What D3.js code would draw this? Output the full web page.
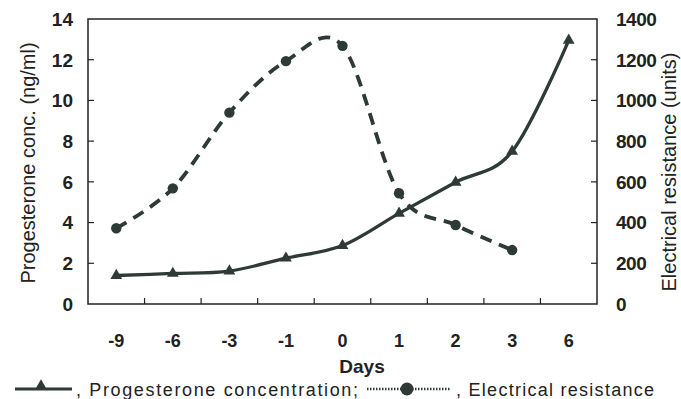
<!DOCTYPE html>
<html>
<head>
<meta charset="utf-8">
<script src="https://cdn.jsdelivr.net/npm/d3@7"></script>
<style>
  body { margin: 0; background: #fff; }
  svg { display: block; font-family: "Liberation Sans", Arial, sans-serif; }
</style>
</head>
<body>
<div id="chart"></div>
<script>
// categories on the x axis (equally spaced, not a linear time scale)
const days = ["-9", "-6", "-3", "-1", "0", "1", "2", "3", "6"];
const progesterone = [1.4, 1.5, 1.62, 2.25, 2.87, 4.45, 5.98, 7.5, 12.95];
const resistanceDays = ["-9", "-6", "-3", "-1", "0", "1", "2", "3"];
const resistance = [372, 568, 940, 1193, 1268, 544, 388, 265];
const leftTicks = [0, 2, 4, 6, 8, 10, 12, 14];
const rightTicks = [0, 200, 400, 600, 800, 1000, 1200, 1400];

const W = 681, H = 399;
const margin = {top: 19, right: 84, bottom: 95, left: 88};
const ink = "#2e3a35";

const svg = d3.select("#chart").append("svg")
  .attr("width", W).attr("height", H);

const x = d3.scaleBand().domain(days).range([margin.left, W - margin.right]);
const cx = d => x(d) + x.bandwidth() / 2;
const yL = d3.scaleLinear().domain([0, 14]).range([H - margin.bottom, margin.top]);
const yR = d3.scaleLinear().domain([0, 1400]).range([H - margin.bottom, margin.top]);

// frame
svg.append("rect")
  .attr("x", margin.left).attr("y", margin.top)
  .attr("width", W - margin.left - margin.right)
  .attr("height", H - margin.top - margin.bottom)
  .attr("fill", "none").attr("stroke", "#222").attr("stroke-width", 1.5);

// inner ticks
const tickG = svg.append("g").attr("stroke", "#222").attr("stroke-width", 1.2);
leftTicks.slice(1, -1).forEach(v => {
  tickG.append("line").attr("x1", margin.left).attr("x2", margin.left + 6)
    .attr("y1", yL(v)).attr("y2", yL(v));
});
rightTicks.slice(1, -1).forEach(v => {
  tickG.append("line").attr("x1", W - margin.right).attr("x2", W - margin.right - 6)
    .attr("y1", yR(v)).attr("y2", yR(v));
});
days.slice(1).forEach(d => {
  tickG.append("line").attr("x1", x(d)).attr("x2", x(d))
    .attr("y1", H - margin.bottom).attr("y2", H - margin.bottom - 6);
});

// tick labels
svg.append("g").selectAll("text").data(leftTicks).join("text")
  .attr("x", 73).attr("y", d => yL(d)).attr("dy", "0.36em")
  .attr("text-anchor", "end").attr("font-size", 19).attr("font-weight", "bold")
  .attr("fill", "#222").text(d => d);
svg.append("g").selectAll("text").data(rightTicks).join("text")
  .attr("x", 616).attr("y", d => yR(d)).attr("dy", "0.36em")
  .attr("text-anchor", "start").attr("font-size", 19).attr("font-weight", "bold")
  .attr("fill", "#222").attr("letter-spacing", -0.5).text(d => d);
svg.append("g").selectAll("text").data(days).join("text")
  .attr("x", d => cx(d)).attr("y", 347)
  .attr("text-anchor", "middle").attr("font-size", 18).attr("font-weight", "bold")
  .attr("fill", "#222").text(d => d);

// axis titles
svg.append("text").attr("x", 362).attr("y", 373)
  .attr("text-anchor", "middle").attr("font-size", 19).attr("font-weight", "bold")
  .attr("fill", "#222").text("Days");
svg.append("text")
  .attr("transform", "translate(35,163) rotate(-90)")
  .attr("text-anchor", "middle").attr("font-size", 20).attr("fill", "#222")
  .text("Progesterone conc. (ng/ml)");
svg.append("text")
  .attr("transform", "translate(676,172) rotate(-90)")
  .attr("text-anchor", "middle").attr("font-size", 20).attr("fill", "#222")
  .text("Electrical resistance (units)");

// series
const curve = d3.curveCardinal.tension(0);
const progLine = d3.line().x((d, i) => cx(days[i])).y(d => yL(d)).curve(curve);
const resLine = d3.line().x((d, i) => cx(resistanceDays[i])).y(d => yR(d)).curve(curve);

svg.append("path").datum(resistance).attr("d", resLine)
  .attr("fill", "none").attr("stroke", ink).attr("stroke-width", 3.8)
  .attr("stroke-dasharray", "12,8");
svg.append("path").datum(progesterone).attr("d", progLine)
  .attr("fill", "none").attr("stroke", ink).attr("stroke-width", 3.3);

const tri = d3.symbol().type(d3.symbolTriangle).size(60);
svg.append("g").selectAll("path").data(progesterone).join("path")
  .attr("transform", (d, i) => `translate(${cx(days[i])},${yL(d)})`)
  .attr("d", tri).attr("fill", ink);
svg.append("g").selectAll("circle").data(resistance).join("circle")
  .attr("cx", (d, i) => cx(resistanceDays[i])).attr("cy", d => yR(d))
  .attr("r", 5.2).attr("fill", ink);

// legend
const lg = svg.append("g");
lg.append("line").attr("x1", 15).attr("x2", 72).attr("y1", 389).attr("y2", 389)
  .attr("stroke", ink).attr("stroke-width", 3);
lg.append("path").attr("transform", "translate(41,386)").attr("d", tri).attr("fill", ink);
lg.append("text").attr("x", 76).attr("y", 396).attr("font-size", 18)
  .attr("fill", "#222").attr("textLength", 282).attr("lengthAdjust", "spacing")
  .text(", Progesterone concentration;");
lg.append("line").attr("x1", 367).attr("x2", 451).attr("y1", 389).attr("y2", 389)
  .attr("stroke", ink).attr("stroke-width", 2.5).attr("stroke-dasharray", "1.5,1.5");
lg.append("circle").attr("cx", 407).attr("cy", 389).attr("r", 6.5).attr("fill", ink);
lg.append("text").attr("x", 456).attr("y", 396).attr("font-size", 18)
  .attr("fill", "#222").attr("textLength", 198).attr("lengthAdjust", "spacing")
  .text(", Electrical resistance");
</script>
</body>
</html>
